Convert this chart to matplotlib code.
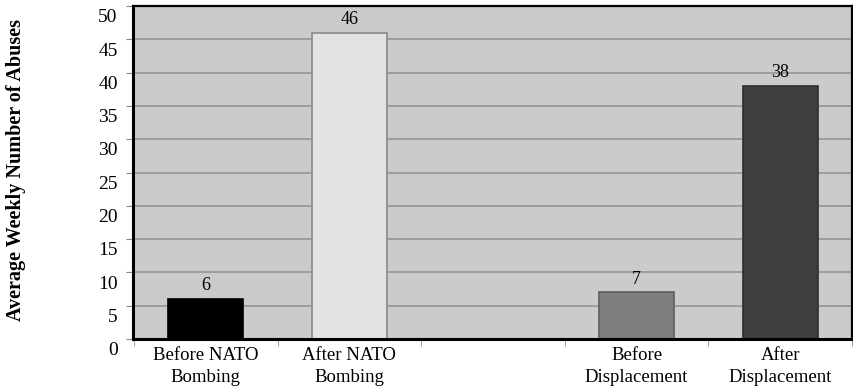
import matplotlib
matplotlib.use("Agg")
import matplotlib.pyplot as plt
import matplotlib.transforms as mtransforms
import numpy as np

# average weekly abuses per period
categories = ["Before NATO\nBombing", "After NATO\nBombing",
              "Before\nDisplacement", "After\nDisplacement"]
positions = [0, 1, 3, 4]
values = [6, 46, 7, 38]
bar_colors = ["#000000", "#e2e2e2", "#7e7e7e", "#3e3e3e"]
edge_colors = ["#000000", "#8a8a8a", "#5e5e5e", "#2e2e2e"]
y_ticks = list(range(0, 51, 5))

plt.rcParams["font.family"] = ["Liberation Serif", "DejaVu Serif"]

fig = plt.figure(figsize=(8.54, 3.91), dpi=100)
ax = fig.add_axes([133 / 854, 1 - 339 / 391, (852 - 133) / 854, (339 - 6) / 391])
ax.set_facecolor("#cbcbcb")

ax.bar(positions, values, width=0.52, color=bar_colors,
       edgecolor=edge_colors, linewidth=1.2, zorder=3)
for x, v in zip(positions, values):
    ax.text(x, v + 0.7, str(v), ha="center", va="bottom", fontsize=13, zorder=4)

ax.set_xlim(-0.507, 4.49)
ax.set_ylim(0, 50)
ax.set_yticks(y_ticks)
ax.yaxis.grid(True, color="#9a9a9a", linewidth=1.3, zorder=1)
ax.set_axisbelow(True)

ax.set_xticks(positions)
ax.set_xticklabels(categories, fontsize=13.5, linespacing=1.35)
ax.set_xticks(np.arange(-0.5, 4.6, 1.0), minor=True)
ax.tick_params(axis="x", which="major", length=0, pad=6)
ax.tick_params(axis="x", which="minor", length=5, color="#888888", direction="out")
ax.tick_params(axis="y", length=5, color="#888888", direction="out",
               labelsize=14, pad=6)

# tick labels sit slightly below their gridlines
shift = mtransforms.ScaledTranslation(0, -7 / 72, fig.dpi_scale_trans)
for lbl in ax.get_yticklabels():
    lbl.set_transform(lbl.get_transform() + shift)

for side in ["left", "bottom"]:
    ax.spines[side].set_linewidth(2.2)
for side in ["top", "right"]:
    ax.spines[side].set_linewidth(1.6)
for sp in ax.spines.values():
    sp.set_color("black")
    sp.set_zorder(5)

fig.text(16 / 854, 1 - 170 / 391, "Average Weekly Number of Abuses",
         rotation=90, ha="center", va="center", fontsize=14.5, fontweight="bold")

fig.savefig("out.png", dpi=100)
